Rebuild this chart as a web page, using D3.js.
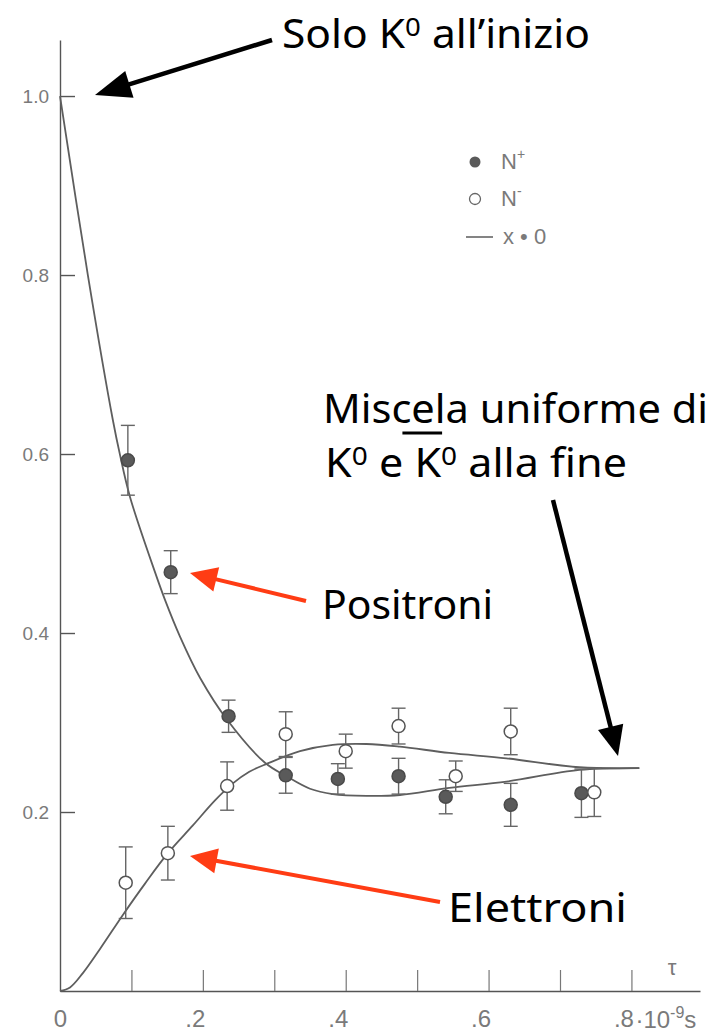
<!DOCTYPE html>
<html><head><meta charset="utf-8">
<script src="https://cdn.jsdelivr.net/npm/d3@7"></script>
<style>body{margin:0;background:#fff}svg{display:block}</style>
</head><body>
<svg id="c" width="715" height="1034"></svg>
<script>
// ---- data ----
const nPlusT   = [0.095,0.155,0.236,0.316,0.389,0.474,0.540,0.631,0.730];
const nPlusV   = [0.593,0.468,0.307,0.241,0.237,0.240,0.217,0.208,0.221];
const nPlusErr = [0.039,0.024,0.018,0.020,0.017,0.020,0.019,0.024,0.027];

const nMinusT   = [0.092,0.151,0.234,0.316,0.400,0.474,0.554,0.631,0.748];
const nMinusV   = [0.121,0.154,0.229,0.287,0.268,0.296,0.240,0.290,0.222];
const nMinusErr = [0.040,0.030,0.027,0.025,0.019,0.020,0.017,0.026,0.027];

const curvePlusT = [0,0.039,0.074,0.084,0.098,0.133,0.147,0.168,0.196,0.234,0.287,0.317,0.350,0.382,0.429,0.476,0.545,0.625,0.727,0.811];
const curvePlusV = [1.0,0.800,0.638,0.599,0.552,0.468,0.437,0.396,0.350,0.303,0.255,0.240,0.226,0.220,0.218,0.219,0.227,0.234,0.247,0.249];

const curveMinusT = [0,0.014,0.032,0.056,0.088,0.119,0.151,0.186,0.217,0.242,0.265,0.290,0.336,0.382,0.429,0.476,0.545,0.625,0.727,0.811];
const curveMinusV = [0,0.004,0.020,0.047,0.085,0.120,0.154,0.185,0.213,0.232,0.245,0.254,0.268,0.275,0.276,0.273,0.266,0.260,0.250,0.249];

const yTickVals   = [0.2,0.4,0.6,0.8,1.0];
const yTickLabels = ["0.2","0.4","0.6","0.8","1.0"];
const xTickVals   = [0.1,0.2,0.3,0.4,0.5,0.6,0.7,0.8];
const xLabelVals  = [0,0.2,0.4,0.6,0.8];
const xTickLabels = ["0",".2",".4",".6",".8"];

const legendLabels = ["N","N","x \u2022 0"];
const legendSups   = ["+","-",""];

// ---- drawing ----
const svg = d3.select("#c");
const x = d3.scaleLinear().domain([0, 0.896]).range([60, 700]);
const y = d3.scaleLinear().domain([0, 1.0626]).range([991, 40]);
const ink = "#555";
const txtGray = "#7a7a7a";
const tickFont = "'Liberation Sans', Arial, sans-serif";

// y axis
svg.append("g").attr("transform","translate(60,0)")
  .call(d3.axisLeft(y).tickValues(yTickVals).tickFormat((d,i)=>yTickLabels[i])
        .tickSizeInner(-15).tickSizeOuter(0).tickPadding(11))
  .call(g=>{
    g.attr("font-size",19).attr("font-family",tickFont);
    g.select(".domain").attr("stroke",ink).attr("stroke-width",1.4);
    g.selectAll(".tick line").attr("stroke",ink).attr("stroke-width",1.4);
    g.selectAll(".tick text").attr("fill",txtGray);
  });

// x axis ticks
svg.append("g").attr("transform","translate(0,991)")
  .call(d3.axisBottom(x).tickValues(xTickVals).tickFormat("")
        .tickSizeInner(-21).tickSizeOuter(0))
  .call(g=>{
    g.select(".domain").attr("stroke",ink).attr("stroke-width",1.6);
    g.selectAll(".tick line").attr("stroke","#777").attr("stroke-width",1.2);
  });
// x axis labels
svg.append("g").attr("transform","translate(0,991)")
  .call(d3.axisBottom(x).tickValues(xLabelVals).tickFormat((d,i)=>xTickLabels[i])
        .tickSize(0).tickPadding(19))
  .call(g=>{
    g.attr("font-size",24).attr("font-family",tickFont);
    g.select(".domain").remove();
    g.selectAll(".tick text").attr("fill",txtGray).attr("dx",(d,i)=> i===0 ? 0 : -8);
  });
// unit after .8
const unit = svg.append("text").attr("x", x(0.8)+4).attr("y", 1028)
  .attr("font-size",24).attr("font-family",tickFont).attr("fill",txtGray);
unit.append("tspan").text("\u00b710");
unit.append("tspan").attr("dy",-10).attr("font-size",16).text("-9");
unit.append("tspan").attr("dy",10).text("s");
// tau
svg.append("text").attr("x",672).attr("y",975).attr("font-size",22)
  .attr("font-family",tickFont).attr("fill",txtGray).attr("text-anchor","middle").text("\u03c4");

// curves
const line = d3.line().x(d=>x(d[0])).y(d=>y(d[1])).curve(d3.curveCatmullRom.alpha(0.5));
svg.append("path").datum(curvePlusT.map((t,i)=>[t,curvePlusV[i]]))
  .attr("d",line).attr("fill","none").attr("stroke","#5e5e5e").attr("stroke-width",1.8);
svg.append("path").datum(curveMinusT.map((t,i)=>[t,curveMinusV[i]]))
  .attr("d",line).attr("fill","none").attr("stroke","#5e5e5e").attr("stroke-width",1.8);

// error bars + markers
function series(T,V,E,filled){
  const g = svg.append("g");
  const d = T.map((t,i)=>({t, v:V[i], e:E[i]}));
  const eb = g.selectAll("g.eb").data(d).join("g").attr("stroke","#666").attr("stroke-width",1.4);
  eb.append("line").attr("x1",p=>x(p.t)).attr("x2",p=>x(p.t)).attr("y1",p=>y(p.v+p.e)).attr("y2",p=>y(p.v-p.e));
  eb.append("line").attr("x1",p=>x(p.t)-7).attr("x2",p=>x(p.t)+7).attr("y1",p=>y(p.v+p.e)).attr("y2",p=>y(p.v+p.e));
  eb.append("line").attr("x1",p=>x(p.t)-7).attr("x2",p=>x(p.t)+7).attr("y1",p=>y(p.v-p.e)).attr("y2",p=>y(p.v-p.e));
  g.selectAll("circle").data(d).join("circle")
    .attr("cx",p=>x(p.t)).attr("cy",p=>y(p.v)).attr("r",6.5)
    .attr("fill", filled ? "#5a5a5a" : "#fff")
    .attr("stroke", filled ? "#4a4a4a" : "#555").attr("stroke-width",1.5);
}
series(nPlusT,nPlusV,nPlusErr,true);
series(nMinusT,nMinusV,nMinusErr,false);

// legend
const lg = svg.append("g").attr("font-family",tickFont).attr("font-size",22).attr("fill",txtGray);
lg.append("circle").attr("cx",475).attr("cy",162).attr("r",5.5).attr("fill","#5a5a5a");
lg.append("circle").attr("cx",475).attr("cy",199).attr("r",5.5).attr("fill","#fff").attr("stroke","#666").attr("stroke-width",1.3);
lg.append("line").attr("x1",466).attr("x2",493).attr("y1",237).attr("y2",237).attr("stroke","#666").attr("stroke-width",1.6);
[[501,169],[501,206],[503,244]].forEach((p,i)=>{
  const t = lg.append("text").attr("x",p[0]).attr("y",p[1]);
  t.append("tspan").text(legendLabels[i]);
  if (legendSups[i]) t.append("tspan").attr("dy",-10).attr("font-size",14).text(legendSups[i]);
});

// annotations
const annFont = "'Noto Sans', sans-serif";
function ann(xp, yp, parts, len, color){
  const t = svg.append("text").attr("x",xp).attr("y",yp).attr("font-family",annFont)
    .attr("font-size",40).attr("fill",color||"#000")
    .attr("textLength",len).attr("lengthAdjust","spacingAndGlyphs");
  parts.forEach(p=>{
    if (p.sup) t.append("tspan").attr("dy",-12).attr("font-size",26).text(p.sup);
    else t.append("tspan").attr("dy", p.back ? 12 : 0).text(p.t);
  });
  return t;
}
ann(282, 48, [{t:"Solo K"},{sup:"0"},{t:" all\u2019inizio",back:true}], 308);
ann(323, 423, [{t:"Miscela uniforme di"}], 385);
const l2 = ann(325, 477, [{t:"K"},{sup:"0"},{t:" e K",back:true},{sup:"0"},{t:" alla fine",back:true}], 302);
ann(322, 619, [{t:"Positroni"}], 171);
ann(448, 922, [{t:"Elettroni"}], 179);
// overbar on second K
{
  const ext = l2.node().getExtentOfChar(5);
  svg.append("line").attr("x1",ext.x-12).attr("x2",ext.x+ext.width+1)
    .attr("y1",433).attr("y2",433).attr("stroke","#000").attr("stroke-width",3);
}

// arrows
function arrow(x1,y1,x2,y2,color,w,hl,hw){
  const a = Math.atan2(y2-y1,x2-x1);
  const bx = x2 - hl*Math.cos(a), by = y2 - hl*Math.sin(a);
  svg.append("line").attr("x1",x1).attr("y1",y1).attr("x2",bx+2*Math.cos(a)).attr("y2",by+2*Math.sin(a))
    .attr("stroke",color).attr("stroke-width",w);
  const px = -Math.sin(a)*hw/2, py = Math.cos(a)*hw/2;
  svg.append("polygon").attr("points",[[x2,y2],[bx+px,by+py],[bx-px,by-py]].map(p=>p.join(",")).join(" "))
    .attr("fill",color);
}
arrow(272,40,95,95,"#000",4.5,36,28);
arrow(553,500,618,756,"#000",4.5,30,26);
arrow(306,601,190,573,"#ff3c14",4,27,25);
arrow(440,902,190,856,"#ff3c14",4,27,25);
</script>
</body></html>
